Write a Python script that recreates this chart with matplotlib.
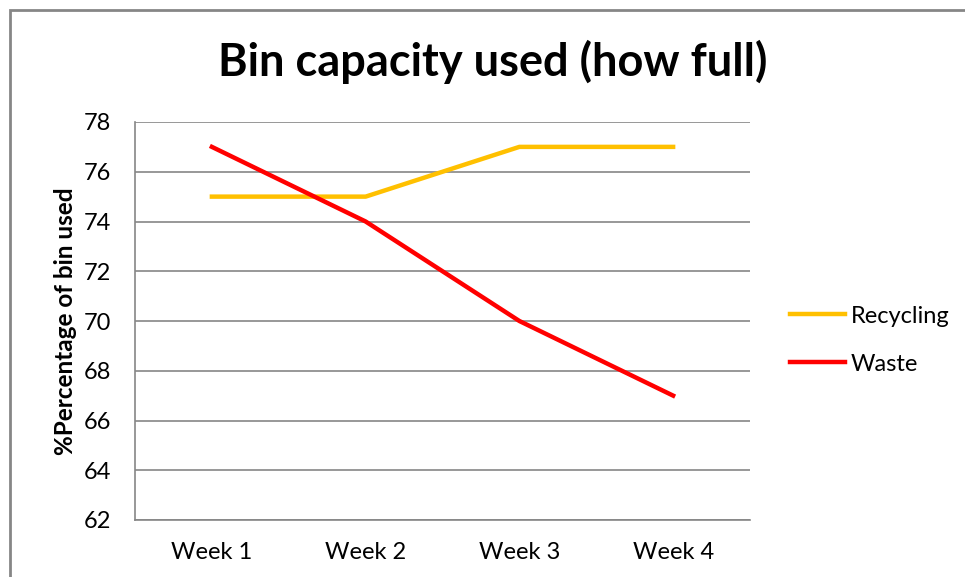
import matplotlib.pyplot as plt
from matplotlib.patches import Rectangle

weeks = ['Week 1', 'Week 2', 'Week 3', 'Week 4']
recycling = [75, 75, 77, 77]
waste = [77, 74, 70, 67]
yticks = [62, 64, 66, 68, 70, 72, 74, 76, 78]

plt.rcParams['font.family'] = ['Lato', 'DejaVu Sans']

fig = plt.figure(figsize=(9.65, 5.77), dpi=100)
# outer chart frame
fig.patches.append(Rectangle((10/965, -0.1), 1.2, (577-10)/577 + 0.1,
                             transform=fig.transFigure, fill=False,
                             edgecolor='#868686', linewidth=2))

ax = fig.add_axes([135/965, 57/577, 615/965, 398/577])
x = range(len(weeks))
ax.plot(x, recycling, color='#FFC000', linewidth=3.2, label='Recycling')
ax.plot(x, waste, color='#FF0000', linewidth=3.2, label='Waste')

ax.set_xlim(-0.5, 3.5)
ax.set_ylim(62, 78)
ax.set_yticks(yticks)
ax.set_xticks(list(x))
ax.set_xticklabels(weeks)
ax.tick_params(axis='both', length=0, labelsize=17)
ax.tick_params(axis='x', pad=16)
ax.tick_params(axis='y', pad=17)
ax.grid(axis='y', color='#868686', linewidth=1.2)
ax.set_axisbelow(True)
for s in ['top', 'right']:
    ax.spines[s].set_visible(False)
for s in ['left', 'bottom']:
    ax.spines[s].set_color('#868686')
    ax.spines[s].set_linewidth(1.2)

ax.set_ylabel('%Percentage of bin used', fontsize=17.5, fontweight='bold', labelpad=5)
fig.text(493/965, 1 - 62/577, 'Bin capacity used (how full)', ha='center', va='center',
         fontsize=32.5, fontweight='bold')

ax.legend(loc='center left', bbox_to_anchor=(1.065, 0.452), frameon=False, fontsize=17,
          borderaxespad=0, borderpad=0, handlelength=2.33, handletextpad=0.25,
          labelspacing=1.15)

fig.savefig('out.png', dpi=100)
